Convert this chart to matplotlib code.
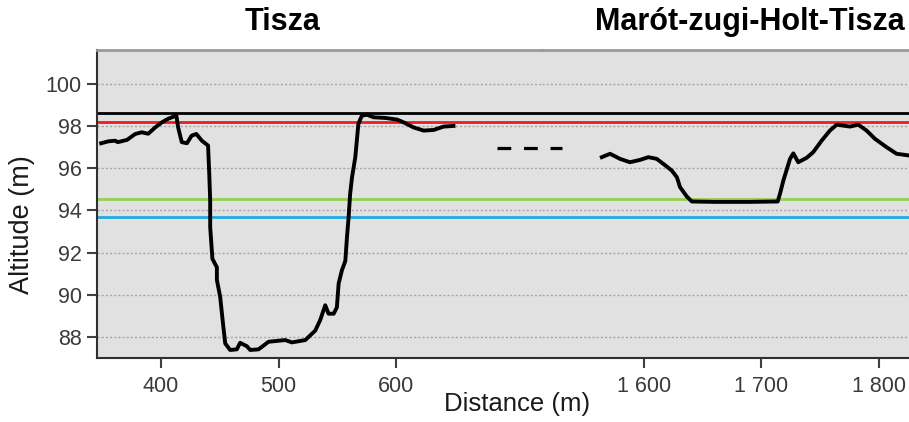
import matplotlib
matplotlib.use('Agg')
import matplotlib.pyplot as plt

plt.rcParams['font.family'] = ['Liberation Sans', 'DejaVu Sans']

# profile of the Tisza (left part)
tisza_dist = [349, 355, 361, 363, 371, 378, 383.5, 389, 395, 400.6, 406, 413,
              414.5, 417.6, 422, 426, 430, 434.7, 440, 441, 441.8, 441.8,
              443.7, 447.5, 447.5, 450.3, 453, 454.6, 458.8, 464.5, 467.3, 473,
              475.9, 483, 491.5, 505.7, 511.4, 522.8, 531.3, 535.5, 539.8,
              542.6, 547, 549.7, 551.2, 554, 556.9, 558.3, 559.7, 561, 562.6,
              565.4, 568, 571, 575.4, 581, 591, 601, 606.6, 615, 623.6, 632,
              640.7, 649]
tisza_alt = [97.18, 97.27, 97.3, 97.23, 97.34, 97.62, 97.7, 97.63, 97.93, 98.17,
             98.34, 98.49, 97.93, 97.23, 97.18, 97.54, 97.62, 97.3, 97.07,
             95.74, 94.47, 93.2, 91.7, 91.3, 90.7, 89.9, 88.48, 87.69, 87.38,
             87.41, 87.72, 87.56, 87.38, 87.41, 87.77, 87.85, 87.74, 87.85,
             88.3, 88.8, 89.5, 89.1, 89.1, 89.4, 90.53, 91.16, 91.6, 92.73,
             93.68, 94.78, 95.57, 96.52, 98.1, 98.49, 98.53, 98.41, 98.38, 98.3,
             98.17, 97.93, 97.78, 97.81, 97.97, 98.0]

# profile of the Marót-zugi-Holt-Tisza (right part)
holt_dist = [1564, 1571, 1579.5, 1588, 1596.6, 1603.7, 1610.8, 1616.5, 1623.6,
             1628, 1630.7, 1636.4, 1640.7, 1660, 1690, 1714, 1716, 1718.8,
             1724.5, 1727.3, 1731.5, 1738.7, 1744.3, 1751.4, 1758.5, 1764.3,
             1775.6, 1782.7, 1789.8, 1796.9, 1806.9, 1815.4, 1826]
holt_alt = [96.52, 96.68, 96.44, 96.28, 96.39, 96.52, 96.44, 96.2, 95.89, 95.57,
            95.1, 94.66, 94.42, 94.4, 94.4, 94.42, 94.8, 95.41, 96.44, 96.7,
            96.28, 96.49, 96.76, 97.3, 97.78, 98.06, 97.97, 98.06, 97.78, 97.39,
            96.99, 96.68, 96.6]

# reference water levels
levels = [98.63, 98.17, 94.53, 93.68]
level_colors = ['black', '#ee1c1c', '#92d050', '#1ea9e1']

yticks = [88, 90, 92, 94, 96, 98, 100]
left_ticks = [400, 500, 600]
right_ticks = [1600, 1700, 1800]
right_labels = ['1 600', '1 700', '1 800']

fig = plt.figure(figsize=(9.09, 4.22), dpi=100)
ax1 = fig.add_axes([97 / 909, 1 - 358 / 422, 445 / 909, 308 / 422])
ax2 = fig.add_axes([542 / 909, 1 - 358 / 422, 370 / 909, 308 / 422])
ax1.set_zorder(3)  # so the break marker is drawn above the right panel

for ax in (ax1, ax2):
    ax.set_facecolor('#e1e1e1')
    ax.set_ylim(87.0, 101.6)
    ax.set_yticks(yticks)
    ax.yaxis.grid(True, linestyle=(0, (1.5, 1.5)), color='#a6a6a6', linewidth=1.0)
    ax.set_axisbelow(True)
    for y, c in zip(levels, level_colors):
        ax.axhline(y, color=c, linewidth=2.0, zorder=2)
    ax.spines['right'].set_visible(False)
    ax.spines['top'].set_color('#9a9a9a')
    ax.spines['top'].set_linewidth(2.0)
    ax.spines['bottom'].set_color('#303030')
    ax.spines['bottom'].set_linewidth(1.5)
    ax.tick_params(axis='x', length=7, width=1.5, color='#404040',
                   labelsize=15.5, labelcolor='#3a3a3a', pad=6)

ax1.plot(tisza_dist, tisza_alt, color='black', linewidth=2.8, zorder=3)
ax1.set_xlim(345.4, 724.4)
ax1.set_xticks(left_ticks)
ax1.spines['left'].set_color('#303030')
ax1.spines['left'].set_linewidth(1.5)
ax1.tick_params(axis='y', length=7, width=1.5, color='#404040',
                labelsize=15.5, labelcolor='#3a3a3a', pad=4)

# break marker between the two parts
ax1.plot([686, 741.5], [96.96, 96.96], color='black', linewidth=2.3,
         dashes=(4.3, 4.0), clip_on=False, zorder=4)

ax2.plot(holt_dist, holt_alt, color='black', linewidth=2.8, zorder=3)
ax2.set_xlim(1513, 1828.5)
ax2.set_xticks(right_ticks)
ax2.set_xticklabels(right_labels)
ax2.spines['left'].set_visible(False)
ax2.tick_params(axis='y', left=False, labelleft=False)

fig.text(283 / 909, 1 - 22 / 422, 'Tisza', fontsize=22, fontweight='bold',
         ha='center', va='center')
fig.text(905 / 909, 1 - 22 / 422, 'Marót-zugi-Holt-Tisza', fontsize=22,
         fontweight='bold', ha='right', va='center')
fig.text(517 / 909, 1 - 404 / 422, 'Distance (m)', fontsize=18.5,
         ha='center', va='center', color='#1a1a1a')
fig.text(22 / 909, 1 - 225 / 422, 'Altitude (m)', fontsize=19.5,
         rotation=90, ha='center', va='center', color='#1a1a1a')

fig.savefig('out.png', dpi=100)
